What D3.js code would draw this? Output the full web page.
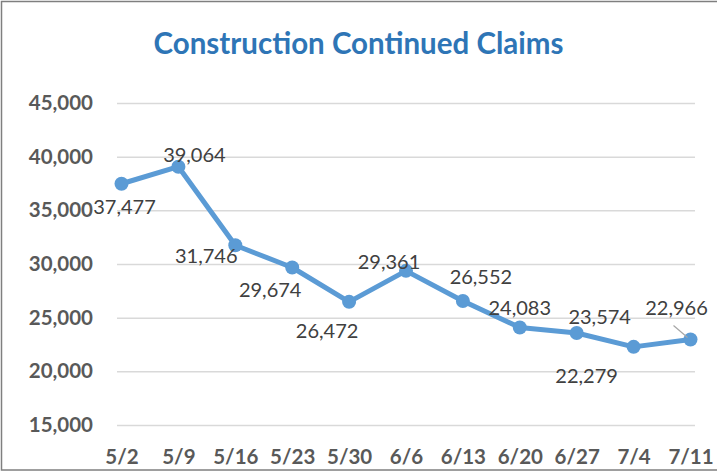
<!DOCTYPE html>
<html>
<head>
<meta charset="utf-8">
<script src="https://cdn.jsdelivr.net/npm/d3@7"></script>
<style>
  body { margin: 0; background: #fff; }
  svg { display: block; font-family: Lato, "Open Sans", sans-serif; }
</style>
</head>
<body>
<svg id="chart" width="717" height="473"></svg>
<script>
// weekly continued claims, construction
var weeks = ["5/2", "5/9", "5/16", "5/23", "5/30", "6/6", "6/13", "6/20", "6/27", "7/4", "7/11"];
var claims = [37477, 39064, 31746, 29674, 26472, 29361, 26552, 24083, 23574, 22279, 22966];
var yTicks = [15000, 20000, 25000, 30000, 35000, 40000, 45000];

// where each data label sits relative to its marker (excel placed them by hand)
var labelShift = [[3, 23], [16, -12], [-29, 11], [-22, 22], [-22, 29], [-17, -9],
                  [18, -24], [0, -20], [23, -16], [-47, 29], [-14, -32]];

var svg = d3.select("#chart");
var W = 717, H = 473;

// outer frame
svg.append("rect")
  .attr("x", 1.5).attr("y", 1.5)
  .attr("width", 730).attr("height", 468.5)
  .attr("fill", "none")
  .attr("stroke", "#7f7f7f")
  .attr("stroke-width", 1.5);

svg.append("text")
  .attr("x", W / 2).attr("y", 54)
  .attr("text-anchor", "middle")
  .attr("font-size", 29.5)
  .attr("font-weight", "bold")
  .attr("fill", "#2e75b6")
  .text("Construction Continued Claims");

var plotL = 117, plotR = 695;
var x = d3.scalePoint().domain(weeks).range([121.5, 690.5]);
var y = d3.scaleLinear().domain([15000, 45000]).range([425, 103]);

var yAxis = svg.append("g")
  .attr("transform", "translate(" + plotL + ",0)")
  .call(d3.axisLeft(y).tickValues(yTicks).tickSize(-(plotR - plotL)).tickPadding(24).tickFormat(d3.format(",")));
yAxis.select(".domain").remove();
yAxis.selectAll("line").attr("stroke", "#d9d9d9").attr("stroke-width", 1.5);
yAxis.selectAll("text")
  .attr("font-size", 20.5)
  .attr("font-weight", "bold")
  .attr("fill", "#595959")
  .style("font-family", "Lato, sans-serif");

var xAxis = svg.append("g")
  .attr("transform", "translate(0,425)")
  .call(d3.axisBottom(x).tickSize(0).tickPadding(24));
xAxis.select(".domain").remove();
xAxis.selectAll("text")
  .attr("font-size", 20.5)
  .attr("font-weight", "bold")
  .attr("fill", "#595959")
  .style("font-family", "Lato, sans-serif");

var line = d3.line()
  .x(function(d, i) { return x(weeks[i]); })
  .y(function(d) { return y(d); });

svg.append("path")
  .datum(claims)
  .attr("d", line)
  .attr("fill", "none")
  .attr("stroke", "#5b9bd5")
  .attr("stroke-width", 5)
  .attr("stroke-linejoin", "round");

svg.selectAll(".dot")
  .data(claims)
  .enter()
  .append("circle")
  .attr("cx", function(d, i) { return x(weeks[i]); })
  .attr("cy", function(d) { return y(d); })
  .attr("r", 7)
  .attr("fill", "#5b9bd5");

// leader line for the last label
var last = claims.length - 1;
svg.append("line")
  .attr("x1", x(weeks[last]) - 17).attr("y1", y(claims[last]) - 14)
  .attr("x2", x(weeks[last]) - 3).attr("y2", y(claims[last]) - 2)
  .attr("stroke", "#a6a6a6")
  .attr("stroke-width", 1.2);

svg.selectAll(".lbl")
  .data(claims)
  .enter()
  .append("text")
  .attr("x", function(d, i) { return x(weeks[i]) + labelShift[i][0]; })
  .attr("y", function(d, i) { return y(d) + labelShift[i][1]; })
  .attr("dy", "0.36em")
  .attr("text-anchor", "middle")
  .attr("font-size", 20)
  .attr("fill", "#404040")
  .text(function(d) { return d3.format(",")(d); });
</script>
</body>
</html>
